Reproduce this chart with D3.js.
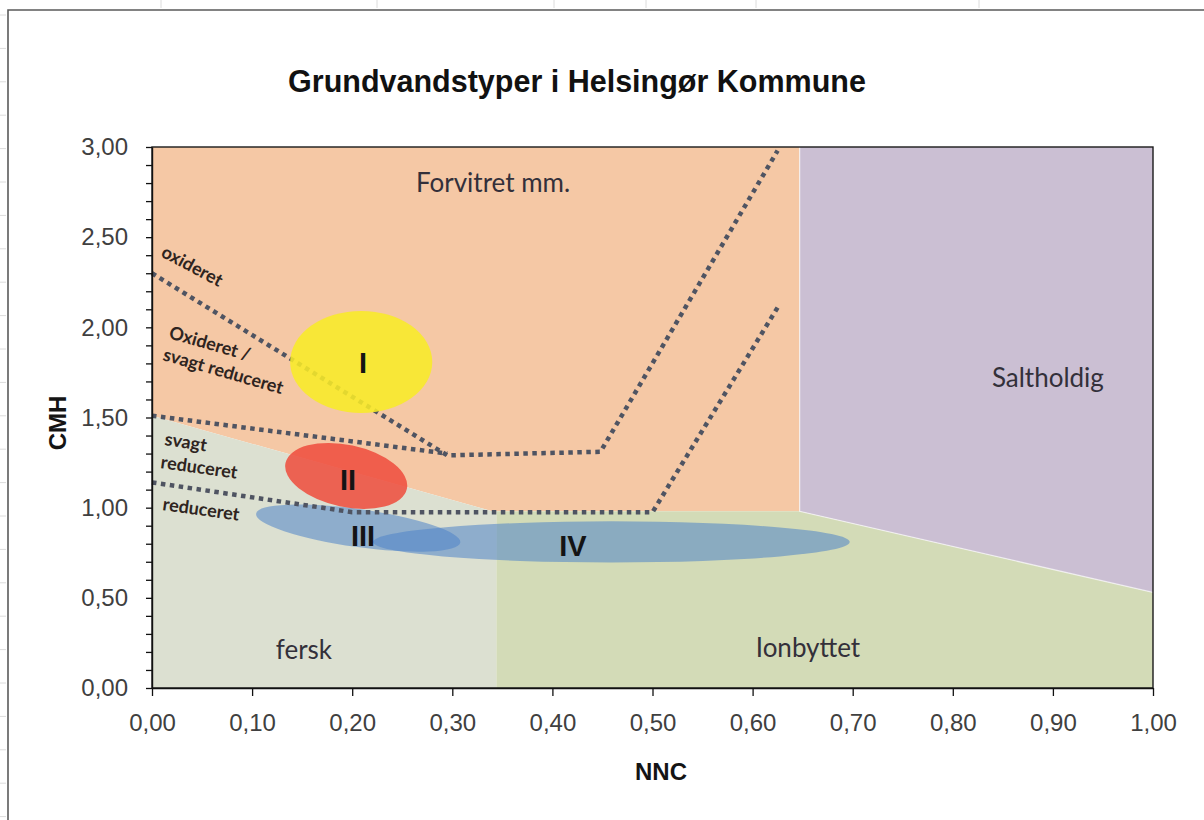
<!DOCTYPE html>
<html>
<head>
<meta charset="utf-8">
<script src="https://cdn.jsdelivr.net/npm/d3@7/dist/d3.min.js"></script>
<style>
body{margin:0;background:#fff;}
</style>
</head>
<body>
<div id="chart"></div>
<script>

// axis ticks
var xTicks = [0,0.1,0.2,0.3,0.4,0.5,0.6,0.7,0.8,0.9,1.0];
var yTicks = [0,0.5,1.0,1.5,2.0,2.5,3.0];

// zones, corners as [NNC, CMH]
var forvitret = [[0,3],[0.647,3],[0.647,0.98],[0.34,0.98],[0,1.51]];
var fersk = [[0,0],[0.344,0],[0.344,0.98],[0.34,0.98],[0,1.51]];
var ionbyttet = [[0.344,0],[1,0],[1,0.53],[0.647,0.98],[0.344,0.98]];
var saltholdig = [[0.647,3],[1,3],[1,0.53],[0.647,0.98]];

// dotted redox boundaries
var lineOxideret = [[0,2.30],[0.295,1.29],[0.448,1.31],[0.625,2.98]];
var lineSvagt = [[0,1.51],[0.295,1.30]];
var lineReduceret = [[0,1.14],[0.20,0.975],[0.50,0.975],[0.625,2.11]];

// groundwater types: centre and half axes in NNC / CMH units
var typeNames = ["I","II","III","IV"];
var typeNNC = [0.209,0.194,0.206,0.459];
var typeCMH = [1.808,1.176,0.887,0.81];
var typeHalfNNC = [0.071,0.062,0.103,0.238];
var typeHalfCMH = [0.283,0.172,0.105,0.114];

var svg = d3.select("#chart").append("svg")
    .attr("width",1204)
    .attr("height",820);

var x = d3.scaleLinear().domain([0,1]).range([152,1153]),
    y = d3.scaleLinear().domain([0,3]).range([688,147]);

var comma = d3.formatLocale({decimal:",",thousands:".",grouping:[3],currency:["","kr"]}).format(".2f");

// sheet frame and faint cell marks
var frame = svg.append("g");
d3.range(15,820,33.4).forEach(function(v){
    frame.append("line").attr("x1",0).attr("x2",6).attr("y1",v).attr("y2",v)
        .attr("stroke","#dcdcdc");
});
[161,377,554,646,756,979].forEach(function(v){
    frame.append("line").attr("x1",v).attr("x2",v).attr("y1",0).attr("y2",8)
        .attr("stroke","#dcdcdc");
});
frame.append("path")
    .attr("d","M8,820 L8,10 L1204,10")
    .attr("fill","none")
    .attr("stroke","#5a5a5a")
    .attr("stroke-width",1.6);

svg.append("text")
    .attr("x",577)
    .attr("y",92)
    .attr("text-anchor","middle")
    .style("font-family","'Liberation Sans', Arial, sans-serif")
    .style("font-weight","bold")
    .style("font-size","30.5px")
    .attr("fill","#111")
    .text("Grundvandstyper i Helsingør Kommune");

// zones
var area = d3.line().x(d=>x(d[0])).y(d=>y(d[1]));

var zones = [
    {pts:forvitret, fill:"#f5c8a5"},
    {pts:fersk, fill:"#dce0d1"},
    {pts:ionbyttet, fill:"#d3dbb7"},
    {pts:saltholdig, fill:"#cbbfd3"}
];
zones.forEach(function(z){
    svg.append("path")
        .datum(z.pts)
        .attr("d",area(z.pts)+"Z")
        .attr("fill",z.fill);
});

svg.append("path")
    .datum(saltholdig)
    .attr("d",area([saltholdig[0],saltholdig[3],saltholdig[2]]))
    .attr("fill","none")
    .attr("stroke","#fff")
    .attr("stroke-opacity",0.6)
    .attr("stroke-width",1.3);

// ellipses
function drawType(i,fill,op,rot){
    var cx = x(typeNNC[i]), cy = y(typeCMH[i]);
    svg.append("ellipse")
        .attr("cx",cx)
        .attr("cy",cy)
        .attr("rx",x(typeNNC[i]+typeHalfNNC[i])-cx)
        .attr("ry",cy-y(typeCMH[i]+typeHalfCMH[i]))
        .attr("transform","rotate("+rot+" "+cx+" "+cy+")")
        .attr("fill",fill)
        .attr("fill-opacity",op);
}
drawType(2,"#4f83c9",0.55,8);
drawType(3,"#4f83c9",0.55,0);
drawType(1,"#ef4b3c",0.85,12);

[lineOxideret,lineSvagt,lineReduceret].forEach(function(l){
    svg.append("path")
        .datum(l)
        .attr("d",area)
        .attr("fill","none")
        .attr("stroke","#4f5462")
        .attr("stroke-width",4.5)
        .attr("stroke-dasharray","4.5,4.5");
});

drawType(0,"#f8ea28",0.88,0);

// type numerals
var numPos = [[0.2108,1.747],[0.1958,1.098],[0.2108,0.7875],[0.4206,0.732]];
typeNames.forEach(function(n,i){
    svg.append("text")
        .attr("x",x(numPos[i][0]))
        .attr("y",y(numPos[i][1]))
        .attr("text-anchor","middle")
        .style("font-family","'Liberation Sans', Arial, sans-serif")
        .style("font-weight","bold")
        .style("font-size","29px")
        .attr("fill","#141414")
        .text(n);
});

// zone names
var zoneLabels = [
    {t:"Forvitret mm.", p:[0.3407,2.751]},
    {t:"Saltholdig", p:[0.895,1.669]},
    {t:"fersk", p:[0.1518,0.161]},
    {t:"Ionbyttet", p:[0.6553,0.172]}
];
zoneLabels.forEach(function(l){
    svg.append("text")
        .attr("x",x(l.p[0]))
        .attr("y",y(l.p[1]))
        .attr("text-anchor","middle")
        .style("font-family","Lato, 'Open Sans', sans-serif")
        .style("font-size","26px")
        .attr("fill","#33303a")
        .text(l.t);
});

// redox names along the boundaries
var redoxLabels = [
    {t:"oxideret", p:[0.008,2.396], a:28},
    {t:"Oxideret /", p:[0.016,1.941], a:16},
    {t:"svagt reduceret", p:[0.010,1.819], a:16},
    {t:"svagt", p:[0.012,1.348], a:9},
    {t:"reduceret", p:[0.008,1.22], a:8},
    {t:"reduceret", p:[0.010,0.987], a:8}
];
redoxLabels.forEach(function(l){
    var px = x(l.p[0]), py = y(l.p[1]);
    svg.append("text")
        .attr("x",px)
        .attr("y",py)
        .attr("transform","rotate("+l.a+" "+px+" "+py+")")
        .style("font-family","Lato, 'Open Sans', sans-serif")
        .style("font-weight","bold")
        .style("font-size","18px")
        .attr("fill","#2e2420")
        .text(l.t);
});

// axes
svg.append("rect")
    .attr("x",x(0))
    .attr("y",y(3))
    .attr("width",x(1)-x(0))
    .attr("height",y(0)-y(3))
    .attr("fill","none")
    .attr("stroke","#1a1a1a")
    .attr("stroke-width",1.4);

var xAxis = svg.append("g")
    .attr("transform","translate(0,"+y(0)+")")
    .call(d3.axisBottom(x).tickValues(xTicks).tickSize(8).tickSizeOuter(0).tickPadding(18).tickFormat(comma));

var yAxis = svg.append("g")
    .attr("transform","translate("+x(0)+",0)")
    .call(d3.axisLeft(y).tickValues(d3.range(0,3.001,0.1)).tickSize(6).tickSizeOuter(0).tickPadding(18)
        .tickFormat(function(d){
            var hit = yTicks.some(v=>Math.abs(v-d)<1e-6);
            return hit ? comma(d) : "";
        }));

[xAxis,yAxis].forEach(function(a){
    a.select(".domain").attr("stroke","#111").attr("stroke-width",1.4);
    a.selectAll(".tick line").attr("stroke","#111").attr("stroke-width",1.3);
    a.selectAll(".tick text")
        .style("font-family","'Liberation Sans', Arial, sans-serif")
        .style("font-size","24px")
        .attr("fill","#404040");
});

svg.append("text")
    .attr("x",661)
    .attr("y",780)
    .attr("text-anchor","middle")
    .style("font-family","'Liberation Sans', Arial, sans-serif")
    .style("font-weight","bold")
    .style("font-size","24px")
    .attr("fill","#141414")
    .text("NNC");

svg.append("text")
    .attr("transform","translate(66,423) rotate(-90)")
    .attr("text-anchor","middle")
    .style("font-family","'Liberation Sans', Arial, sans-serif")
    .style("font-weight","bold")
    .style("font-size","24px")
    .attr("fill","#141414")
    .text("CMH");

</script>
</body>
</html>
